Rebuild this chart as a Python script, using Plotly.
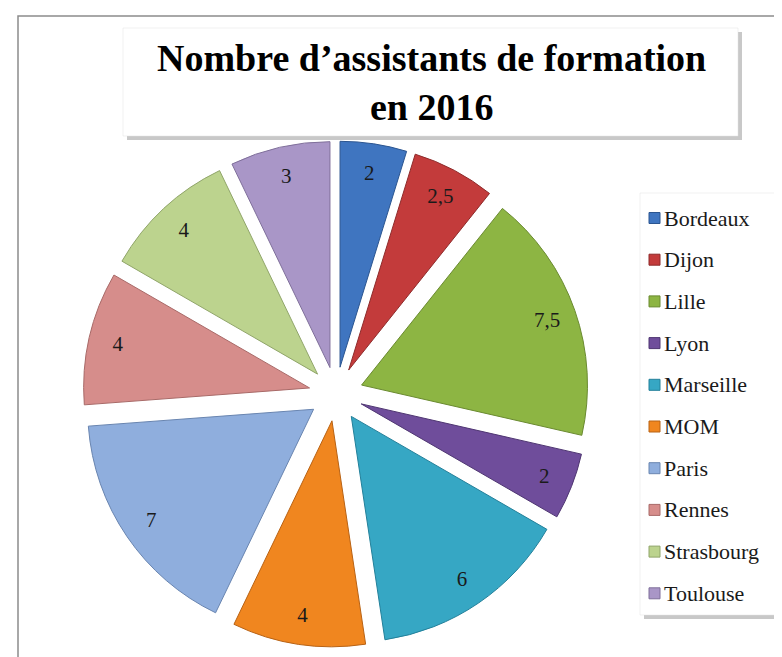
import plotly.graph_objects as go

categories = ["Bordeaux", "Dijon", "Lille", "Lyon", "Marseille", "MOM", "Paris", "Rennes", "Strasbourg", "Toulouse"]
values = [2, 2.5, 7.5, 2, 6, 4, 7, 4, 4, 3]
colors = ["#3F75C0", "#C33B3B", "#8DB543", "#6F4D9B", "#36A7C4", "#F0861F", "#8FAEDD", "#D68D8B", "#BCD38E", "#A996C7"]
line_colors = ["#2B5590", "#8E2B2B", "#6A8A30", "#4F3672", "#23809A", "#B86214", "#6985B0", "#A86A68", "#90A56A", "#7F6F9A"]
title_text = "Nombre d’assistants de formation<br>en 2016"

W, H = 782, 657
labels_text = [f"{v:g}".replace(".", ",") for v in values]
pull = [0.12] * len(values)
domain = dict(x=[75 / W, 581 / W], y=[1 - 639 / H, 1 - 133 / H])

fig = go.Figure()
# coloured slices
fig.add_trace(go.Pie(
    labels=categories,
    values=values,
    textinfo="none",
    sort=False,
    direction="clockwise",
    rotation=0,
    pull=pull,
    marker=dict(colors=colors, line=dict(color=line_colors, width=1)),
    domain=domain,
    showlegend=False,
    hoverinfo="label+value",
))
# transparent ring carrying the data labels near the outer edge
fig.add_trace(go.Pie(
    labels=categories,
    values=values,
    text=labels_text,
    textinfo="text",
    textposition="inside",
    insidetextorientation="horizontal",
    hole=0.74,
    sort=False,
    direction="clockwise",
    rotation=0,
    pull=pull,
    marker=dict(colors=["rgba(0,0,0,0)"] * len(values), line=dict(width=0)),
    textfont=dict(family="Liberation Serif", size=21, color="#1a1a1a"),
    domain=domain,
    showlegend=False,
    hoverinfo="skip",
))

shapes = []
annotations = []

def px_x(x):
    return x / W

def px_y(y):
    return 1 - y / H

# outer frame
shapes.append(dict(type="rect", xref="paper", yref="paper",
                   x0=px_x(10), x1=px_x(781), y0=px_y(655), y1=px_y(8),
                   line=dict(color="#8C8C8C", width=1.5), fillcolor="rgba(0,0,0,0)"))

# title box with shadow
shapes.append(dict(type="rect", xref="paper", yref="paper",
                   x0=px_x(119), x1=px_x(734), y0=px_y(132), y1=px_y(24),
                   line=dict(width=0), fillcolor="#C8C8C8", layer="below"))
shapes.append(dict(type="rect", xref="paper", yref="paper",
                   x0=px_x(115), x1=px_x(730), y0=px_y(128), y1=px_y(20),
                   line=dict(color="#E0E0E0", width=0.5), fillcolor="white", layer="below"))
annotations.append(dict(xref="paper", yref="paper", x=px_x(423), y=px_y(74),
                        text="<b>" + title_text + "</b>", showarrow=False,
                        xanchor="center", yanchor="middle", align="center",
                        font=dict(family="Liberation Serif", size=38, color="black")))

# legend box with shadow
shapes.append(dict(type="rect", xref="paper", yref="paper",
                   x0=px_x(636), x1=px_x(782), y0=px_y(611), y1=px_y(189),
                   line=dict(width=0), fillcolor="#C8C8C8", layer="below"))
shapes.append(dict(type="rect", xref="paper", yref="paper",
                   x0=px_x(632), x1=px_x(778), y0=px_y(607), y1=px_y(185),
                   line=dict(color="#E0E0E0", width=0.5), fillcolor="white", layer="below"))

y_first, y_step = 210, 41.7
for i, (cat, col, lc) in enumerate(zip(categories, colors, line_colors)):
    yc = y_first + i * y_step
    shapes.append(dict(type="rect", xref="paper", yref="paper",
                       x0=px_x(641), x1=px_x(652), y0=px_y(yc + 5.5), y1=px_y(yc - 5.5),
                       line=dict(color=lc, width=1), fillcolor=col))
    annotations.append(dict(xref="paper", yref="paper", x=px_x(654), y=px_y(yc),
                            text=cat, showarrow=False, xanchor="left", yanchor="middle",
                            font=dict(family="Liberation Serif", size=22, color="#1a1a1a")))

fig.update_layout(
    width=W, height=H,
    margin=dict(l=0, r=0, t=0, b=0),
    paper_bgcolor="white",
    plot_bgcolor="white",
    shapes=shapes,
    annotations=annotations,
)

fig.write_html("out.html")
